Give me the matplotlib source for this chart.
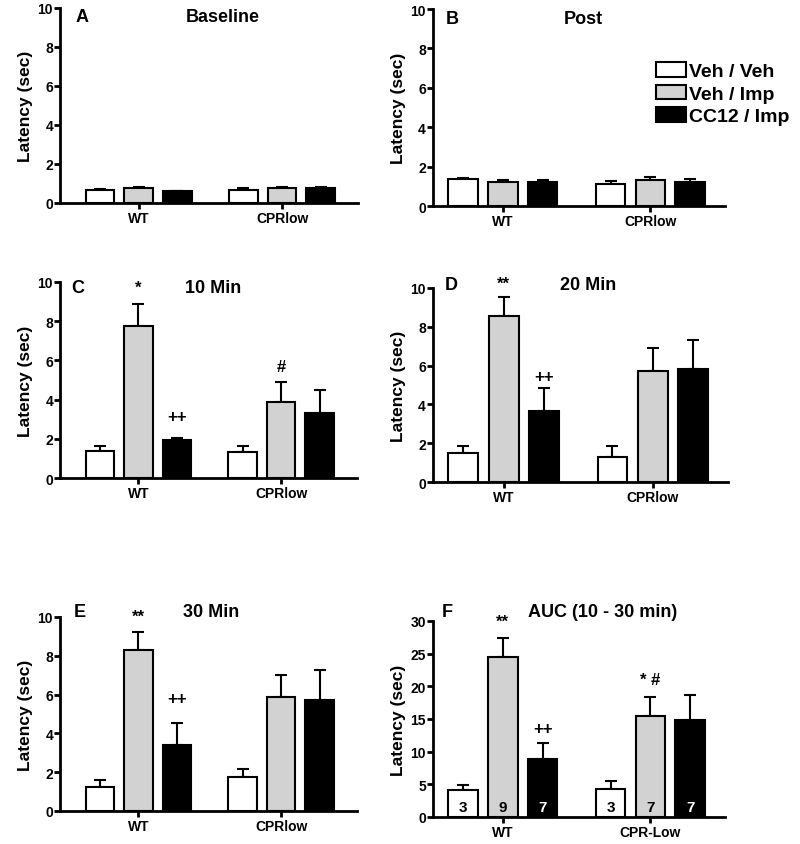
import matplotlib
matplotlib.use("Agg")
import matplotlib.pyplot as plt
from matplotlib.patches import Patch
import numpy as np

plt.rcParams['font.family'] = ['Liberation Sans', 'DejaVu Sans']
plt.rcParams['font.weight'] = 'bold'

series = ["Veh / Veh", "Veh / Imp", "CC12 / Imp"]
colors = ["white", "#d2d2d2", "black"]

# values: [series][group]  groups: WT, CPRlow
A_mean = [[0.68, 0.68], [0.78, 0.77], [0.62, 0.77]]
A_err = [[0.03, 0.10], [0.05, 0.05], [0.02, 0.05]]
B_mean = [[1.38, 1.12], [1.20, 1.30], [1.22, 1.24]]
B_err = [[0.03, 0.15], [0.10, 0.15], [0.12, 0.13]]
C_mean = [[1.36, 1.31], [7.74, 3.88], [1.92, 3.32]]
C_err = [[0.25, 0.30], [1.15, 1.02], [0.12, 1.15]]
D_mean = [[1.51, 1.27], [8.54, 5.70], [3.64, 5.83]]
D_err = [[0.33, 0.57], [0.98, 1.20], [1.20, 1.49]]
E_mean = [[1.23, 1.73], [8.30, 5.87], [3.41, 5.70]]
E_err = [[0.37, 0.41], [0.93, 1.13], [1.11, 1.56]]
F_mean = [[4.15, 4.30], [24.5, 15.46], [8.86, 14.8]]
F_err = [[0.71, 1.20], [2.90, 2.84], [2.44, 3.90]]
F_n = [[3, 3], [9, 7], [7, 7]]

groups = ["WT", "CPRlow"]
groups_F = ["WT", "CPR-Low"]

fig = plt.figure(figsize=(8, 8.45), dpi=100)

def panel(rect, means, errs, letter, title, letter_xy, title_xy, xlim,
          ymax=10, yticks=None, xlabels=groups, annots=(), ns=None):
    ax = fig.add_axes(rect)
    centers = np.array([1.0, 2.0])
    width = 0.2
    offs = [-0.27, 0.0, 0.27]
    for i in range(3):
        x = centers + offs[i]
        ax.errorbar(x, means[i], yerr=[[0, 0], errs[i]], fmt='none',
                    ecolor='black', elinewidth=1.5, capsize=4.5, capthick=1.5, zorder=2)
        ax.bar(x, means[i], width=width, color=colors[i], edgecolor='black',
               linewidth=1.5, zorder=3)
        if ns is not None:
            for xx, n in zip(x, ns[i]):
                ax.text(xx, ymax * 0.05, str(n), ha='center', va='center',
                        fontsize=11, fontweight='bold',
                        color='white' if i == 2 else 'black', zorder=4)
    for (si, gi, txt, yy) in annots:
        ax.text(centers[gi] + offs[si], yy, txt, ha='center', va='center',
                fontsize=12, fontweight='bold')
    ax.set_xlim(*xlim)
    ax.set_ylim(0, ymax)
    if yticks is None:
        yticks = np.arange(0, ymax + 0.1, 2)
    ax.set_yticks(yticks)
    ax.set_yticklabels([str(int(t)) for t in yticks], fontsize=10, fontweight='bold')
    ax.set_xticks(centers)
    ax.set_xticklabels(xlabels, fontsize=10, fontweight='bold')
    ax.spines['top'].set_visible(False)
    ax.spines['right'].set_visible(False)
    ax.spines['left'].set_linewidth(2)
    ax.spines['bottom'].set_linewidth(2)
    ax.tick_params(axis='y', direction='out', width=2, length=4, pad=1)
    ax.tick_params(axis='x', direction='out', width=2, length=4, pad=2)
    ax.set_ylabel("Latency (sec)", fontsize=12.5, fontweight='bold', labelpad=3)
    ax.text(letter_xy[0], letter_xy[1], letter, transform=ax.transAxes,
            fontsize=13, fontweight='bold', ha='center', va='center')
    ax.text(title_xy[0], title_xy[1], title, transform=ax.transAxes,
            fontsize=13, fontweight='bold', ha='center', va='center')
    return ax

L_xlim = (0.45, 2.53)
R_xlim = (0.525, 2.505)

axA = panel([0.075, 0.7586, 0.3725, 0.2308], A_mean, A_err, "A", "Baseline",
            (0.074, 0.954), (0.547, 0.954), L_xlim)
axB = panel([0.541, 0.755, 0.365, 0.2331], B_mean, B_err, "B", "Post",
            (0.065, 0.95), (0.514, 0.95), R_xlim)
axC = panel([0.075, 0.4331, 0.371, 0.232], C_mean, C_err, "C", "10 Min",
            (0.06, 0.974), (0.515, 0.974), L_xlim,
            annots=[(1, 0, "*", 9.74), (2, 0, "++", 3.16), (1, 1, "#", 5.7)])
axD = panel([0.541, 0.4284, 0.369, 0.2296], D_mean, D_err, "D", "20 Min",
            (0.064, 1.02), (0.525, 1.02), R_xlim,
            annots=[(1, 0, "**", 10.26), (2, 0, "++", 5.46)])
axE = panel([0.075, 0.0391, 0.371, 0.2296], E_mean, E_err, "E", "30 Min",
            (0.067, 1.03), (0.51, 1.03), L_xlim,
            annots=[(1, 0, "**", 10.05), (2, 0, "++", 5.82)])
axF = panel([0.541, 0.032, 0.365, 0.232], F_mean, F_err, "F", "AUC (10 - 30 min)",
            (0.048, 1.046), (0.58, 1.046), R_xlim, ymax=30,
            yticks=np.arange(0, 31, 5), xlabels=groups_F,
            annots=[(1, 0, "**", 29.9), (2, 0, "++", 13.6), (1, 1, "* #", 21.1)],
            ns=F_n)

handles = [Patch(facecolor=c, edgecolor='black', linewidth=1.5) for c in colors]
fig.legend(handles, series, loc='upper left', bbox_to_anchor=(656 / 800, 1 - 63 / 845),
           frameon=False, prop={'size': 14, 'weight': 'bold'},
           handlelength=1.55, handleheight=0.78, handletextpad=0.15,
           labelspacing=0.23, borderpad=0, borderaxespad=0)

fig.savefig("out.png", dpi=100)
